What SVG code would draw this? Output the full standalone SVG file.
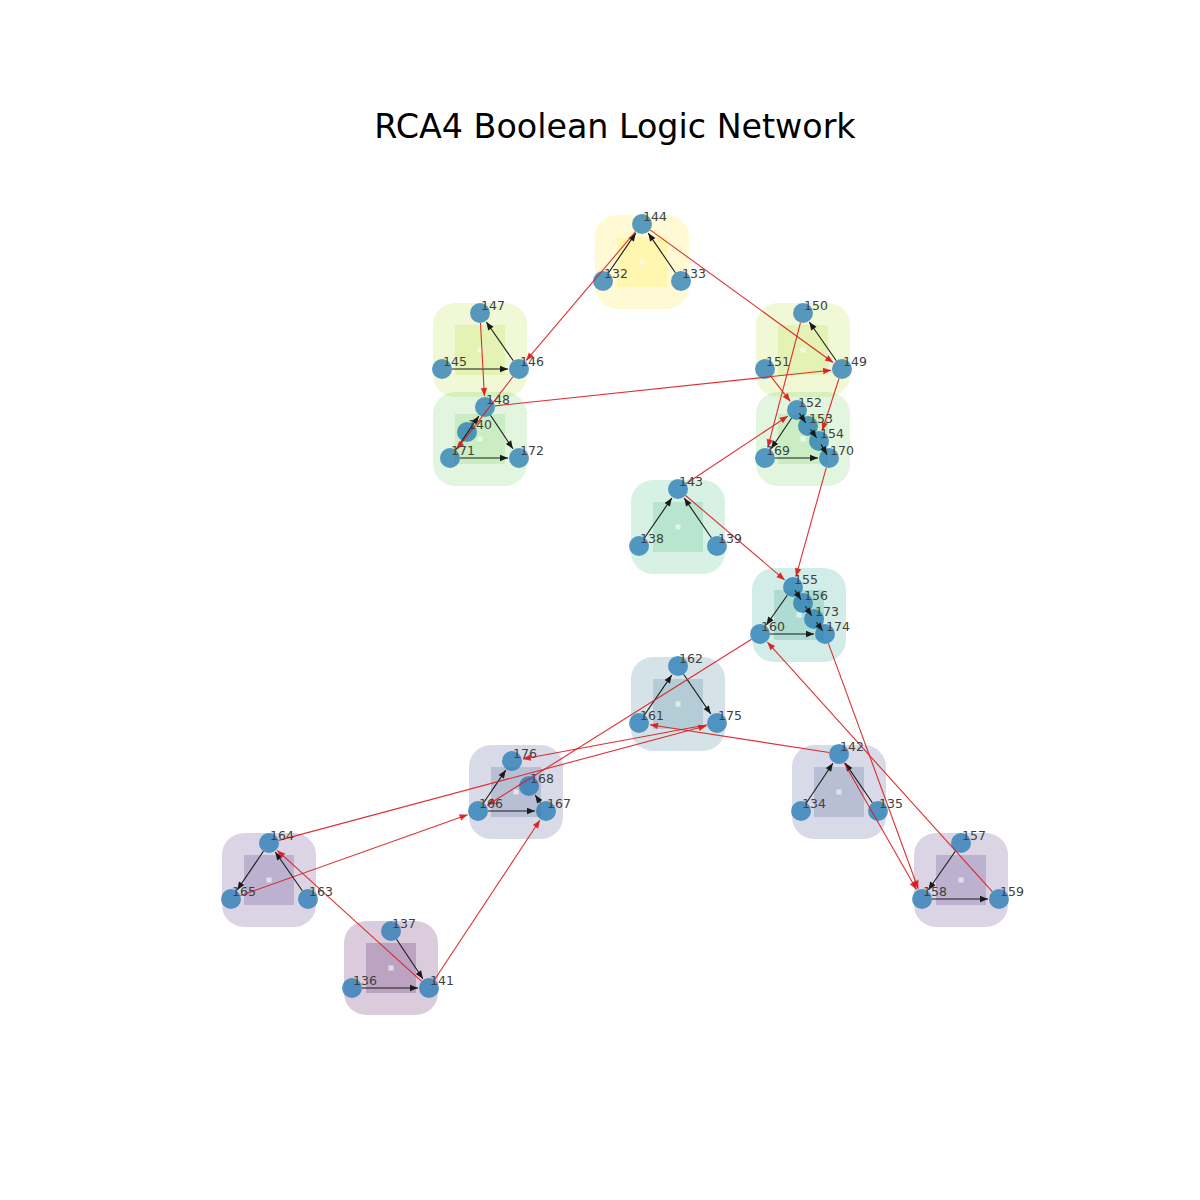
<svg xmlns="http://www.w3.org/2000/svg" width="1200" height="1200" viewBox="0 0 1200 1200">
<style>
.title{font-family:"DejaVu Sans",sans-serif;font-size:33.3px;fill:#000;text-anchor:middle}
.lbl{font-family:"DejaVu Sans",sans-serif;font-size:12.5px;fill:#404040}
.outer{fill-opacity:0.2}
.inner{fill-opacity:0.2}
.dot{fill:#fff;fill-opacity:0.6}
.node{fill:#1f77b4;fill-opacity:0.74}
.k{stroke:#1a1a1a;stroke-width:1.1;fill:none;marker-end:url(#ak)}
.r{stroke:#dc1a1c;stroke-opacity:0.9;stroke-width:1.1;fill:none;marker-end:url(#ar)}
</style>
<defs>
<marker id="ak" viewBox="-10 -5 10 10" refX="0" refY="0" markerWidth="10" markerHeight="10" markerUnits="userSpaceOnUse" orient="auto"><path d="M-8,-3.2 L0,0 L-8,3.2 z" fill="#1a1a1a"/></marker>
<marker id="ar" viewBox="-10 -5 10 10" refX="0" refY="0" markerWidth="10" markerHeight="10" markerUnits="userSpaceOnUse" orient="auto"><path d="M-8,-3.2 L0,0 L-8,3.2 z" fill="#dc1a1c" fill-opacity="0.9"/></marker>
</defs>
<rect width="1200" height="1200" fill="#fff"/>
<text class="title" x="615" y="138">RCA4 Boolean Logic Network</text>
<g id="clusters">
<g id="cluster-a" fill="#fde725"><rect class="outer" x="595" y="215" width="94" height="94" rx="22"/><rect class="inner" x="617" y="237" width="50" height="50"/><rect class="dot" x="639.5" y="259.5" width="5" height="5"/></g>
<g id="cluster-b1" fill="#b5de2b"><rect class="outer" x="433" y="303" width="94" height="94" rx="22"/><rect class="inner" x="455" y="325" width="50" height="50"/><rect class="dot" x="477.5" y="347.5" width="5" height="5"/></g>
<g id="cluster-b2" fill="#b5de2b"><rect class="outer" x="756" y="303" width="94" height="94" rx="22"/><rect class="inner" x="778" y="325" width="50" height="50"/><rect class="dot" x="800.5" y="347.5" width="5" height="5"/></g>
<g id="cluster-c1" fill="#6ece58"><rect class="outer" x="433" y="392" width="94" height="94" rx="22"/><rect class="inner" x="455" y="414" width="50" height="50"/><rect class="dot" x="477.5" y="436.5" width="5" height="5"/></g>
<g id="cluster-c2" fill="#6ece58"><rect class="outer" x="756" y="392" width="94" height="94" rx="22"/><rect class="inner" x="778" y="414" width="50" height="50"/><rect class="dot" x="800.5" y="436.5" width="5" height="5"/></g>
<g id="cluster-d" fill="#35b779"><rect class="outer" x="631" y="480" width="94" height="94" rx="22"/><rect class="inner" x="653" y="502" width="50" height="50"/><rect class="dot" x="675.5" y="524.5" width="5" height="5"/></g>
<g id="cluster-e" fill="#1f9e89"><rect class="outer" x="752" y="568" width="94" height="94" rx="22"/><rect class="inner" x="774" y="590" width="50" height="50"/><rect class="dot" x="796.5" y="612.5" width="5" height="5"/></g>
<g id="cluster-f" fill="#2c728e"><rect class="outer" x="631" y="657" width="94" height="94" rx="22"/><rect class="inner" x="653" y="679" width="50" height="50"/><rect class="dot" x="675.5" y="701.5" width="5" height="5"/></g>
<g id="cluster-g1" fill="#3e4989"><rect class="outer" x="469" y="745" width="94" height="94" rx="22"/><rect class="inner" x="491" y="767" width="50" height="50"/><rect class="dot" x="513.5" y="789.5" width="5" height="5"/></g>
<g id="cluster-g2" fill="#3e4989"><rect class="outer" x="792" y="745" width="94" height="94" rx="22"/><rect class="inner" x="814" y="767" width="50" height="50"/><rect class="dot" x="836.5" y="789.5" width="5" height="5"/></g>
<g id="cluster-h1" fill="#482878"><rect class="outer" x="222" y="833" width="94" height="94" rx="22"/><rect class="inner" x="244" y="855" width="50" height="50"/><rect class="dot" x="266.5" y="877.5" width="5" height="5"/></g>
<g id="cluster-h2" fill="#482878"><rect class="outer" x="914" y="833" width="94" height="94" rx="22"/><rect class="inner" x="936" y="855" width="50" height="50"/><rect class="dot" x="958.5" y="877.5" width="5" height="5"/></g>
<g id="cluster-i" fill="#440154"><rect class="outer" x="344" y="921" width="94" height="94" rx="22"/><rect class="inner" x="366" y="943" width="50" height="50"/><rect class="dot" x="388.5" y="965.5" width="5" height="5"/></g>
</g>
<g id="nodes">
<g id="n144"><circle class="node" cx="642" cy="224" r="10"/></g>
<g id="n132"><circle class="node" cx="603" cy="281" r="10"/></g>
<g id="n133"><circle class="node" cx="681" cy="281" r="10"/></g>
<g id="n147"><circle class="node" cx="480" cy="313" r="10"/></g>
<g id="n145"><circle class="node" cx="442" cy="369" r="10"/></g>
<g id="n146"><circle class="node" cx="519" cy="369" r="10"/></g>
<g id="n148"><circle class="node" cx="485" cy="407" r="10"/></g>
<g id="n140"><circle class="node" cx="467" cy="432" r="10"/></g>
<g id="n171"><circle class="node" cx="450" cy="458" r="10"/></g>
<g id="n172"><circle class="node" cx="519" cy="458" r="10"/></g>
<g id="n150"><circle class="node" cx="803" cy="313" r="10"/></g>
<g id="n151"><circle class="node" cx="765" cy="369" r="10"/></g>
<g id="n149"><circle class="node" cx="842" cy="369" r="10"/></g>
<g id="n152"><circle class="node" cx="797" cy="410" r="10"/></g>
<g id="n153"><circle class="node" cx="808" cy="426" r="10"/></g>
<g id="n154"><circle class="node" cx="819" cy="441" r="10"/></g>
<g id="n169"><circle class="node" cx="765" cy="458" r="10"/></g>
<g id="n170"><circle class="node" cx="829" cy="458" r="10"/></g>
<g id="n143"><circle class="node" cx="678" cy="489" r="10"/></g>
<g id="n138"><circle class="node" cx="639" cy="546" r="10"/></g>
<g id="n139"><circle class="node" cx="717" cy="546" r="10"/></g>
<g id="n155"><circle class="node" cx="793" cy="587" r="10"/></g>
<g id="n156"><circle class="node" cx="803" cy="603" r="10"/></g>
<g id="n173"><circle class="node" cx="814" cy="619" r="10"/></g>
<g id="n174"><circle class="node" cx="825" cy="634" r="10"/></g>
<g id="n160"><circle class="node" cx="760" cy="634" r="10"/></g>
<g id="n162"><circle class="node" cx="678" cy="666" r="10"/></g>
<g id="n161"><circle class="node" cx="639" cy="723" r="10"/></g>
<g id="n175"><circle class="node" cx="717" cy="723" r="10"/></g>
<g id="n176"><circle class="node" cx="512" cy="761" r="10"/></g>
<g id="n168"><circle class="node" cx="529" cy="786" r="10"/></g>
<g id="n166"><circle class="node" cx="478" cy="811" r="10"/></g>
<g id="n167"><circle class="node" cx="546" cy="811" r="10"/></g>
<g id="n142"><circle class="node" cx="839" cy="754" r="10"/></g>
<g id="n134"><circle class="node" cx="801" cy="811" r="10"/></g>
<g id="n135"><circle class="node" cx="878" cy="811" r="10"/></g>
<g id="n164"><circle class="node" cx="269" cy="843" r="10"/></g>
<g id="n165"><circle class="node" cx="231" cy="899" r="10"/></g>
<g id="n163"><circle class="node" cx="308" cy="899" r="10"/></g>
<g id="n157"><circle class="node" cx="961" cy="843" r="10"/></g>
<g id="n158"><circle class="node" cx="922" cy="899" r="10"/></g>
<g id="n159"><circle class="node" cx="999" cy="899" r="10"/></g>
<g id="n137"><circle class="node" cx="391" cy="931" r="10"/></g>
<g id="n136"><circle class="node" cx="352" cy="988" r="10"/></g>
<g id="n141"><circle class="node" cx="429" cy="988" r="10"/></g>
</g>
<g id="connectors">
<line class="k" x1="608.6" y1="272.7" x2="635.8" y2="233.1"/>
<line class="k" x1="675.4" y1="272.7" x2="648.2" y2="233.1"/>
<line class="k" x1="452" y1="369" x2="508" y2="369"/>
<line class="k" x1="513.3" y1="360.8" x2="486.3" y2="322"/>
<line class="k" x1="455.7" y1="449.8" x2="478.8" y2="416.1"/>
<line class="k" x1="490.5" y1="415.3" x2="512.9" y2="448.8"/>
<line class="k" x1="460" y1="458" x2="508" y2="458"/>
<line class="k" x1="836.3" y1="360.8" x2="809.3" y2="322"/>
<line class="k" x1="791.5" y1="418.3" x2="771.1" y2="448.8"/>
<line class="k" x1="775" y1="458" x2="818" y2="458"/>
<line class="k" x1="799.3" y1="413.3" x2="805.7" y2="422.7"/>
<line class="k" x1="810.4" y1="429.2" x2="816.6" y2="437.8"/>
<line class="k" x1="821" y1="444.4" x2="827" y2="454.6"/>
<line class="k" x1="644.6" y1="537.7" x2="671.8" y2="498.1"/>
<line class="k" x1="711.4" y1="537.7" x2="684.2" y2="498.1"/>
<line class="k" x1="787.3" y1="595.2" x2="766.3" y2="625"/>
<line class="k" x1="770" y1="634" x2="814" y2="634"/>
<line class="k" x1="795.1" y1="590.4" x2="800.9" y2="599.6"/>
<line class="k" x1="805.3" y1="606.3" x2="811.7" y2="615.7"/>
<line class="k" x1="816.4" y1="622.2" x2="822.6" y2="630.8"/>
<line class="k" x1="644.6" y1="714.7" x2="671.8" y2="675.1"/>
<line class="k" x1="683.6" y1="674.3" x2="710.8" y2="713.9"/>
<line class="k" x1="483.6" y1="802.7" x2="505.8" y2="770.1"/>
<line class="k" x1="488" y1="811" x2="535" y2="811"/>
<line class="k" x1="540.4" y1="802.7" x2="535.2" y2="795.1"/>
<line class="k" x1="806.5" y1="802.7" x2="832.9" y2="763.2"/>
<line class="k" x1="872.4" y1="802.7" x2="845.2" y2="763.1"/>
<line class="k" x1="263.4" y1="851.3" x2="237.2" y2="889.9"/>
<line class="k" x1="302.3" y1="890.8" x2="275.3" y2="852"/>
<line class="k" x1="955.3" y1="851.2" x2="928.3" y2="890"/>
<line class="k" x1="932" y1="899" x2="988" y2="899"/>
<line class="k" x1="396.5" y1="939.3" x2="422.9" y2="978.8"/>
<line class="k" x1="362" y1="988" x2="418" y2="988"/>
<line class="r" x1="635.5" y1="231.6" x2="526.1" y2="360.6"/>
<line class="r" x1="650.1" y1="229.9" x2="833.1" y2="362.5"/>
<line class="r" x1="480.5" y1="323" x2="484.4" y2="396"/>
<line class="r" x1="512.9" y1="376.9" x2="456.7" y2="449.3"/>
<line class="r" x1="495" y1="405.9" x2="831.1" y2="370.2"/>
<line class="r" x1="771.2" y1="376.9" x2="790.2" y2="401.3"/>
<line class="r" x1="800.5" y1="322.7" x2="767.8" y2="447.4"/>
<line class="r" x1="839" y1="378.5" x2="822.3" y2="430.5"/>
<line class="r" x1="686.3" y1="483.5" x2="787.8" y2="416.1"/>
<line class="r" x1="685.6" y1="495.5" x2="784.6" y2="579.9"/>
<line class="r" x1="826.3" y1="467.6" x2="796" y2="576.4"/>
<line class="r" x1="751.5" y1="639.3" x2="487.3" y2="805.2"/>
<line class="r" x1="829.1" y1="752.5" x2="649.9" y2="724.7"/>
<line class="r" x1="707.2" y1="724.8" x2="522.8" y2="759"/>
<line class="r" x1="278.7" y1="840.4" x2="706.4" y2="725.8"/>
<line class="r" x1="240.4" y1="895.6" x2="467.6" y2="814.7"/>
<line class="r" x1="421.6" y1="981.3" x2="277.2" y2="850.4"/>
<line class="r" x1="434.5" y1="979.7" x2="539.9" y2="820.2"/>
<line class="r" x1="844" y1="762.7" x2="916.5" y2="889.5"/>
<line class="r" x1="828.4" y1="643.4" x2="918.2" y2="888.7"/>
<line class="r" x1="992.3" y1="891.6" x2="767.4" y2="642.2"/>
</g>
<g id="labels">
<text class="lbl" x="643" y="221">144</text>
<text class="lbl" x="604" y="278">132</text>
<text class="lbl" x="682" y="278">133</text>
<text class="lbl" x="481" y="310">147</text>
<text class="lbl" x="443" y="366">145</text>
<text class="lbl" x="520" y="366">146</text>
<text class="lbl" x="486" y="404">148</text>
<text class="lbl" x="468" y="429">140</text>
<text class="lbl" x="451" y="455">171</text>
<text class="lbl" x="520" y="455">172</text>
<text class="lbl" x="804" y="310">150</text>
<text class="lbl" x="766" y="366">151</text>
<text class="lbl" x="843" y="366">149</text>
<text class="lbl" x="798" y="407">152</text>
<text class="lbl" x="809" y="423">153</text>
<text class="lbl" x="820" y="438">154</text>
<text class="lbl" x="766" y="455">169</text>
<text class="lbl" x="830" y="455">170</text>
<text class="lbl" x="679" y="486">143</text>
<text class="lbl" x="640" y="543">138</text>
<text class="lbl" x="718" y="543">139</text>
<text class="lbl" x="794" y="584">155</text>
<text class="lbl" x="804" y="600">156</text>
<text class="lbl" x="815" y="616">173</text>
<text class="lbl" x="826" y="631">174</text>
<text class="lbl" x="761" y="631">160</text>
<text class="lbl" x="679" y="663">162</text>
<text class="lbl" x="640" y="720">161</text>
<text class="lbl" x="718" y="720">175</text>
<text class="lbl" x="513" y="758">176</text>
<text class="lbl" x="530" y="783">168</text>
<text class="lbl" x="479" y="808">166</text>
<text class="lbl" x="547" y="808">167</text>
<text class="lbl" x="840" y="751">142</text>
<text class="lbl" x="802" y="808">134</text>
<text class="lbl" x="879" y="808">135</text>
<text class="lbl" x="270" y="840">164</text>
<text class="lbl" x="232" y="896">165</text>
<text class="lbl" x="309" y="896">163</text>
<text class="lbl" x="962" y="840">157</text>
<text class="lbl" x="923" y="896">158</text>
<text class="lbl" x="1000" y="896">159</text>
<text class="lbl" x="392" y="928">137</text>
<text class="lbl" x="353" y="985">136</text>
<text class="lbl" x="430" y="985">141</text>
</g>
</svg>
